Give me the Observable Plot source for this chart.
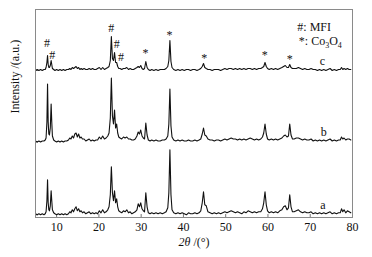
<!DOCTYPE html>
<html><head><meta charset="utf-8">
<script src="https://cdn.jsdelivr.net/npm/d3@7"></script>
<script src="https://cdn.jsdelivr.net/npm/@observablehq/plot@0.6"></script>
<style>html,body{margin:0;padding:0;background:#fff} svg{display:block}</style>
</head><body><div id="chart"></div>
<script>
// 2θ sampling positions (degrees), shared by all three patterns
const twoTheta = [
  5.0, 5.4, 5.8, 6.2, 6.6, 7.0, 7.3, 7.5, 7.7, 7.85,
  8.0, 8.15, 8.3, 8.5, 8.7, 8.85, 9.0, 9.3, 9.6, 10.0,
  10.4, 10.8, 11.2, 11.6, 12.0, 12.4, 12.8, 13.1, 13.4, 13.7,
  14.0, 14.3, 14.6, 14.9, 15.2, 15.5, 15.8, 16.1, 16.5, 16.9,
  17.3, 17.7, 18.1, 18.5, 18.9, 19.3, 19.7, 20.1, 20.5, 20.9,
  21.3, 21.7, 22.1, 22.4, 22.7, 22.95, 23.2, 23.45, 23.7, 23.95,
  24.2, 24.45, 24.7, 25.0, 25.4, 25.8, 26.2, 26.6, 27.0, 27.4,
  27.8, 28.2, 28.6, 29.0, 29.3, 29.6, 29.9, 30.2, 30.5, 30.8,
  31.1, 31.4, 31.7, 32.1, 32.5, 33.0, 33.5, 34.0, 34.5, 35.0,
  35.5, 35.9, 36.3, 36.55, 36.8, 37.05, 37.3, 37.7, 38.2, 38.7,
  39.2, 39.7, 40.2, 40.7, 41.2, 41.7, 42.2, 42.7, 43.2, 43.7,
  44.1, 44.45, 44.75, 45.05, 45.4, 45.8, 46.3, 46.8, 47.3, 47.8,
  48.3, 48.8, 49.3, 49.8, 50.3, 50.8, 51.3, 51.8, 52.3, 52.8,
  53.3, 53.8, 54.3, 54.8, 55.3, 55.8, 56.3, 56.8, 57.3, 57.8,
  58.3, 58.7, 59.0, 59.3, 59.6, 59.9, 60.3, 60.8, 61.3, 61.8,
  62.3, 62.8, 63.3, 63.7, 64.1, 64.5, 64.85, 65.15, 65.45, 65.8,
  66.2, 66.7, 67.2, 67.7, 68.2, 68.7, 69.2, 69.7, 70.2, 70.7,
  71.2, 71.7, 72.2, 72.7, 73.2, 73.7, 74.2, 74.7, 75.2, 75.7,
  76.2, 76.7, 77.1, 77.4, 77.7, 78.0, 78.4, 78.8, 79.2, 79.6
];
// Intensities (a.u., above each pattern's own baseline)
const intensityA = [
  1, 0, 1, 0, 1, 0, 1, 3, 14, 35,
  12, 5, 4, 9, 24, 14, 5, 2, 1, 0,
  1, 0, 1, 0, 1, 0, 1, 3, 2, 5,
  3, 6, 8, 4, 6, 3, 4, 2, 3, 1,
  2, 3, 1, 2, 1, 2, 1, 4, 2, 5,
  2, 3, 5, 8, 20, 48, 22, 14, 24, 12,
  16, 8, 4, 3, 2, 4, 3, 5, 2, 3,
  1, 2, 3, 5, 11, 8, 12, 6, 4, 3,
  22, 8, 2, 1, 2, 1, 2, 1, 2, 1,
  2, 3, 7, 22, 65, 20, 5, 2, 1, 2,
  1, 2, 1, 0, 2, 1, 1, 2, 1, 2,
  4, 12, 23, 10, 9, 3, 2, 1, 2, 1,
  2, 1, 2, 3, 2, 3, 4, 3, 2, 3,
  2, 1, 3, 2, 4, 3, 2, 3, 2, 3,
  3, 6, 12, 23, 10, 4, 2, 3, 2, 3,
  2, 4, 5, 8, 9, 5, 7, 20, 8, 3,
  3, 4, 5, 3, 2, 3, 2, 2, 3, 1,
  2, 1, 2, 1, 2, 1, 2, 3, 1, 2,
  1, 2, 2, 6, 3, 5, 2, 4, 3, 2
];
const intensityB = [
  1, 0, 1, 0, 1, 1, 2, 4, 20, 58,
  20, 8, 7, 14, 38, 20, 6, 2, 1, 0,
  1, 0, 1, 0, 1, 1, 2, 4, 3, 6,
  4, 8, 9, 5, 8, 4, 5, 3, 3, 1,
  2, 3, 1, 2, 1, 2, 2, 5, 3, 6,
  3, 4, 6, 9, 24, 64, 26, 18, 32, 14,
  18, 9, 5, 4, 3, 5, 4, 5, 3, 3,
  2, 2, 3, 6, 10, 8, 12, 6, 4, 3,
  19, 7, 2, 1, 2, 1, 2, 1, 1, 2,
  2, 3, 6, 18, 53, 16, 5, 2, 1, 2,
  1, 2, 1, 1, 2, 1, 1, 2, 1, 2,
  3, 8, 14, 7, 6, 3, 2, 2, 1, 2,
  2, 1, 2, 3, 2, 3, 4, 3, 3, 2,
  3, 2, 3, 2, 3, 4, 3, 2, 3, 2,
  3, 5, 9, 18, 8, 3, 2, 3, 2, 3,
  2, 3, 4, 6, 7, 5, 6, 18, 7, 3,
  3, 4, 4, 3, 2, 3, 2, 2, 3, 1,
  2, 1, 2, 1, 2, 1, 2, 3, 1, 2,
  1, 2, 2, 5, 3, 4, 2, 3, 3, 2
];
const intensityC = [
  0, 1, 0, 1, 0, 1, 1, 3, 8, 15,
  6, 3, 3, 5, 10, 6, 2, 1, 0, 1,
  0, 1, 0, 1, 0, 1, 1, 2, 1, 3,
  2, 3, 4, 2, 3, 1, 2, 1, 2, 1,
  1, 2, 1, 2, 1, 1, 2, 3, 1, 3,
  1, 2, 3, 4, 10, 34, 12, 10, 18, 8,
  8, 4, 2, 2, 1, 2, 2, 3, 1, 2,
  1, 1, 2, 3, 4, 3, 5, 2, 1, 2,
  9, 3, 1, 0, 1, 0, 1, 0, 1, 1,
  1, 2, 4, 10, 30, 9, 3, 1, 0, 1,
  0, 1, 0, 1, 1, 0, 1, 1, 0, 1,
  2, 4, 7, 3, 2, 1, 1, 0, 1, 1,
  1, 0, 1, 2, 1, 2, 2, 1, 2, 1,
  2, 1, 2, 1, 2, 2, 1, 2, 1, 2,
  2, 3, 4, 8, 4, 2, 1, 2, 1, 2,
  1, 2, 3, 4, 5, 3, 3, 6, 3, 2,
  2, 2, 3, 2, 1, 2, 1, 1, 2, 1,
  1, 0, 1, 0, 1, 0, 1, 2, 0, 1,
  0, 1, 1, 3, 1, 2, 1, 2, 1, 1
];
const sampleNames = ["a", "b", "c"];
const baselines = [2.7, 75.5, 147];          // vertical offsets of the stacked patterns
const sampleLabelTheta = [73.0, 73.2, 72.9];
const sampleLabelI = [12.7, 85, 156];

// Peak markers
const markerSymbol = ["#", "#", "#", "#", "#", "*", "*", "*", "*", "*"];
const markerTheta  = [7.75, 8.95, 22.9, 24.25, 25.2, 31.05, 36.7, 44.9, 59.25, 65.15];
const markerI      = [174, 162, 189.3, 173, 160, 164, 182, 159, 162, 158];

// Legend
const legendLines = ["#: MFI", "*: Co3O4"];
const legendTheta = [66.95, 67.3];
const legendI = [190.3, 176];

const xTicks = [10, 20, 30, 40, 50, 60, 70, 80];
const xLabel = "2θ /(°)";
const yLabel = "Intensity /(a.u.)";

const intensities = [intensityA, intensityB, intensityC];
const rows = [];
intensities.forEach((vals, k) => {
  vals.forEach((v, i) => rows.push({t: twoTheta[i], I: baselines[k] + v, s: sampleNames[k]}));
});

const serif = "'Liberation Serif', 'Times New Roman', 'DejaVu Serif', serif";
const plot = Plot.plot({
  width: 372, height: 257,
  marginTop: 9, marginBottom: 40, marginLeft: 35, marginRight: 20,
  style: {fontFamily: serif, fontSize: "12px", background: "#fff", color: "#111"},
  x: {domain: [5, 80]},
  y: {domain: [0, 208]},
  marks: [
    Plot.axisX({ticks: xTicks, tickSize: -3, tickFormat: () => "", label: null, stroke: "#777"}),
    Plot.axisY({ticks: baselines, tickSize: -3, tickFormat: () => "", label: null, stroke: "#777"}),
    Plot.line(rows, {x: "t", y: "I", z: "s", stroke: "#111", strokeWidth: 1.1}),
    Plot.frame({stroke: "#8a8a8a"}),
    Plot.axisX({ticks: xTicks, tickSize: 0, tickPadding: 5, label: null, fontSize: 12}),
    Plot.text(markerSymbol, {x: markerTheta, y: markerI, text: d => d, fontSize: 12, fill: "#111"}),
    Plot.text(sampleNames, {x: sampleLabelTheta, y: sampleLabelI, text: d => d, fontSize: 12, fill: "#111"}),
    Plot.text(legendLines, {x: legendTheta, y: legendI, text: d => d, textAnchor: "start", fontSize: 12, fill: "#111"}),
    Plot.text([yLabel], {frameAnchor: "left", dx: -20, rotate: -90, fontSize: 12, fill: "#111"}),
    Plot.text([xLabel], {frameAnchor: "bottom", dy: 28, fontSize: 12, fill: "#111"})
  ]
});
document.getElementById("chart").appendChild(plot);

// typographic touches: italic 2θ, subscripts in Co3O4
d3.select(plot).selectAll("text").each(function () {
  const el = d3.select(this);
  const t = this.textContent;
  if (t === xLabel) {
    el.text(null);
    el.append("tspan").attr("font-style", "italic").text("2θ");
    el.append("tspan").text(" /(°)");
  } else if (t === "*: Co3O4") {
    el.text(null);
    el.append("tspan").text("*: Co");
    el.append("tspan").attr("font-size", 8).attr("dy", 3).text("3");
    el.append("tspan").attr("dy", -3).text("O");
    el.append("tspan").attr("font-size", 8).attr("dy", 3).text("4");
  }
});
</script>
</body></html>
